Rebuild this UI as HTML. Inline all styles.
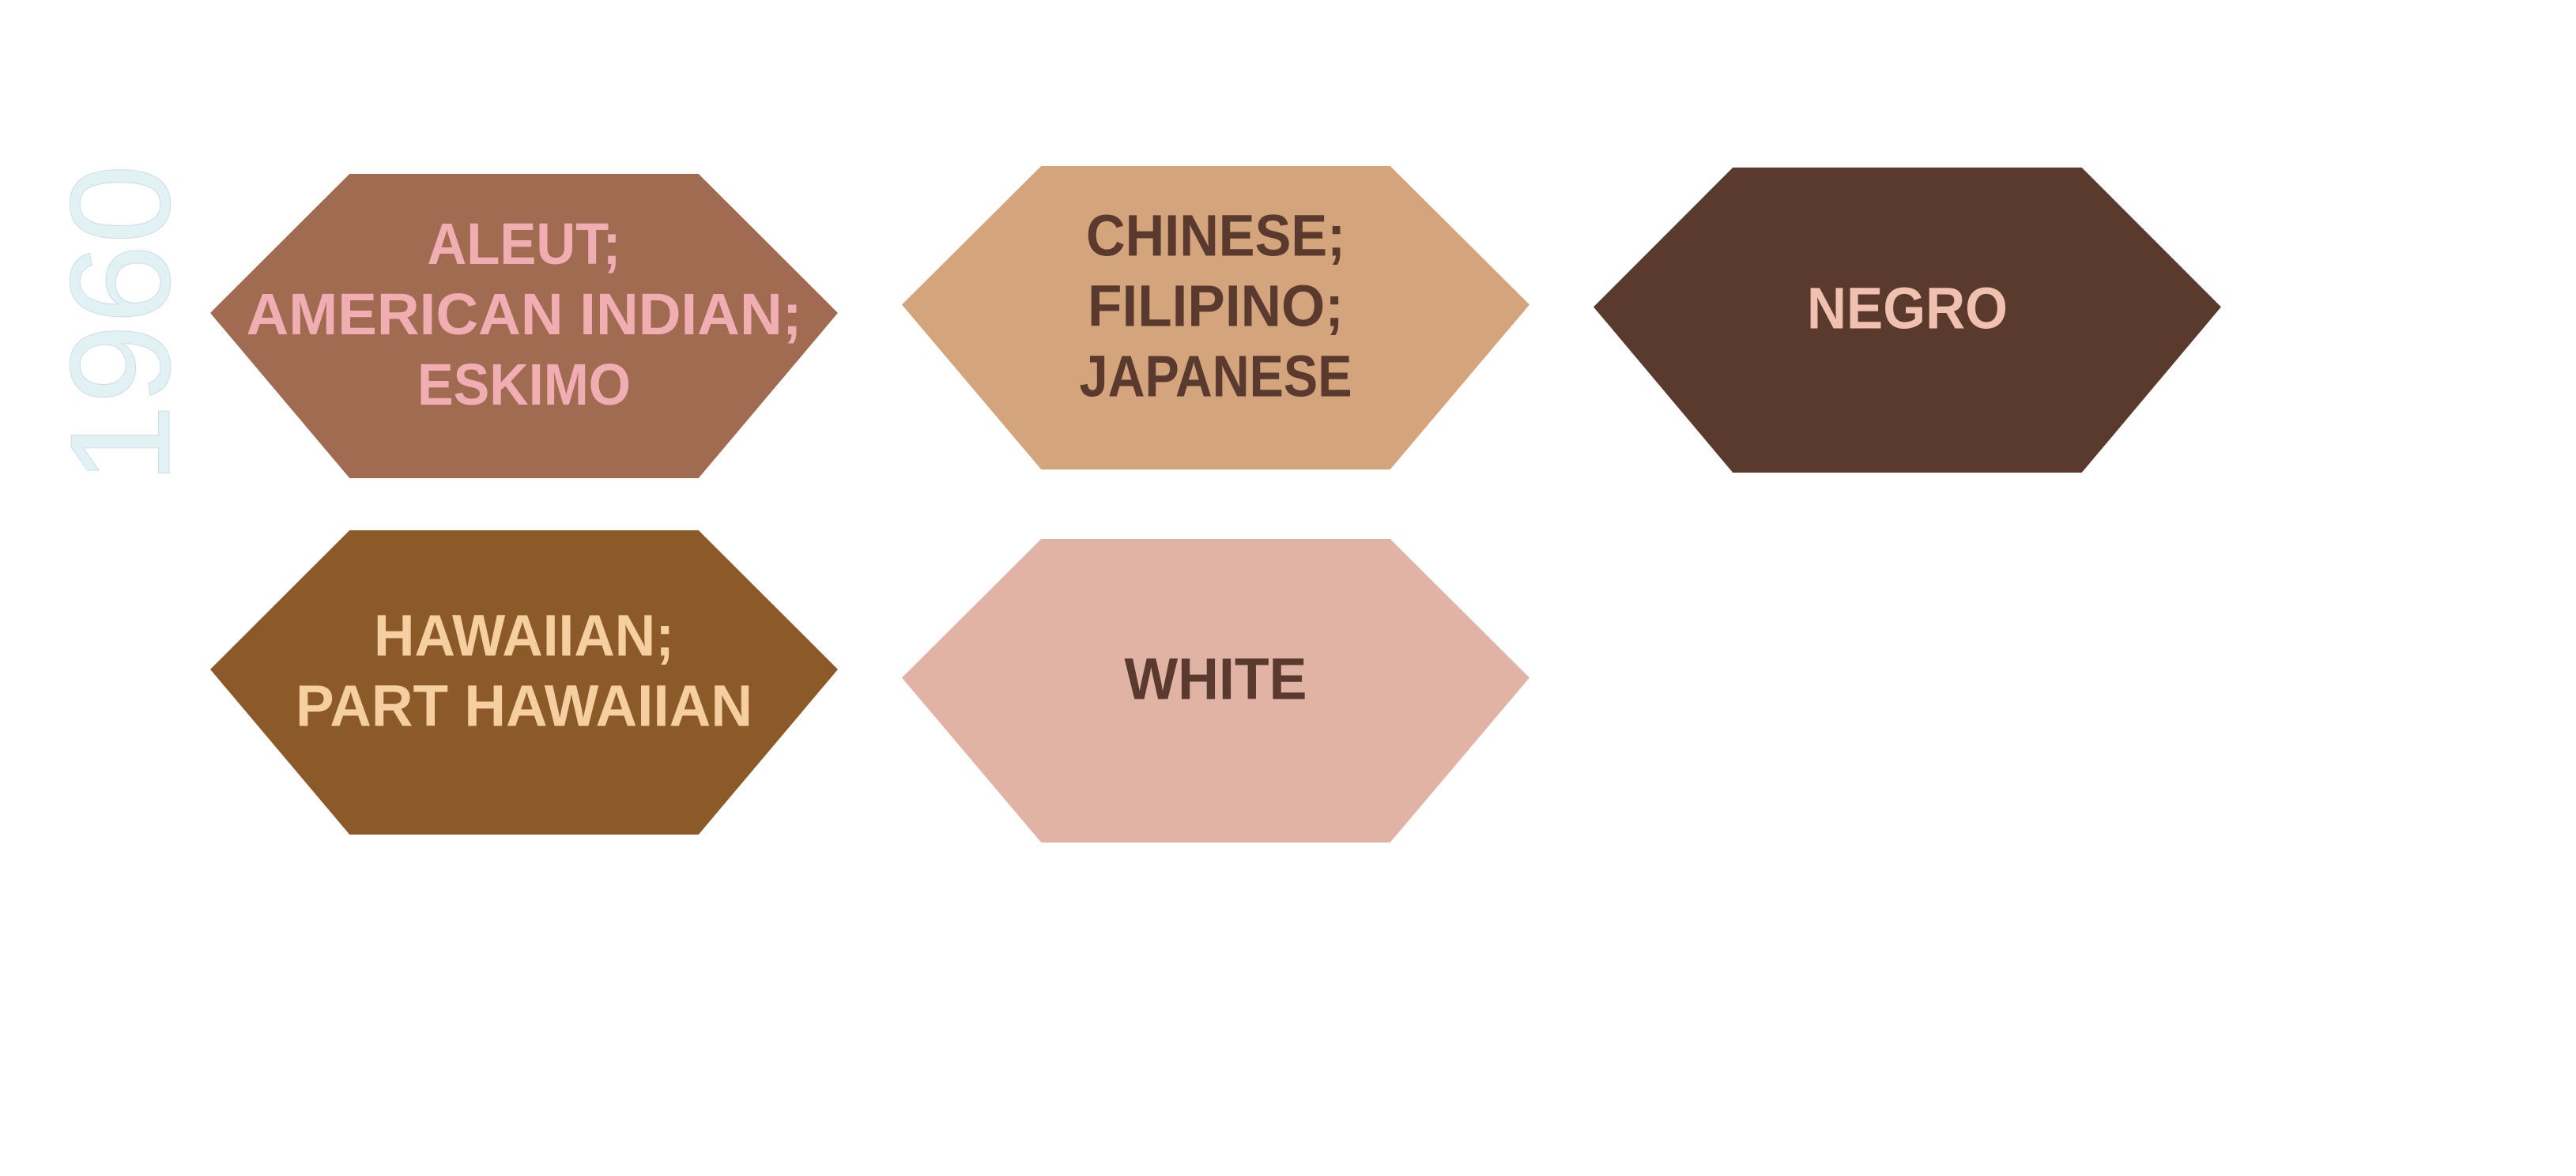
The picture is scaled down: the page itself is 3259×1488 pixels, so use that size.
<!DOCTYPE html>
<html><head><meta charset="utf-8"><style>
html,body{margin:0;padding:0;background:#fff;}
svg{display:block;}
text{font-family:"Liberation Sans Narrow","Liberation Sans",sans-serif;}
</style></head><body>
<svg width="3259" height="1488" viewBox="0 0 3259 1488">
<text transform="translate(214,410) rotate(-90)" text-anchor="middle" font-size="180" fill="#e2f2f4" stroke="#c9dde8" stroke-width="1" textLength="405" lengthAdjust="spacingAndGlyphs">1960</text>
<g id="hexes"></g>
</svg>
<script>
const labels=[["ALEUT;","AMERICAN INDIAN;","ESKIMO"],["CHINESE;","FILIPINO;","JAPANESE"],["NEGRO"],["HAWAIIAN;","PART HAWAIIAN"],["WHITE"]];
const names=["hex-aleut-american-indian-eskimo","hex-chinese-filipino-japanese","hex-negro","hex-hawaiian","hex-white"];
const fills=["#a06b50","#d4a57c","#5b3a2e","#8b5a28","#e0b3a4"];
const textColors=["#f0aeb2","#5a3a2e","#f0c0b0","#f5cf9f","#5a3a2e"];
const boxes=[[266,220,1060,605],[1141,210,1935,594],[2016,212,2810,598],[266,671,1060,1056],[1141,682,1935,1066]];
const widths=[[245,703,270],[328,324,345],[254],[380,578],[231]];
const g=document.getElementById('hexes');
const NS="http://www.w3.org/2000/svg";
boxes.forEach((b,i)=>{
 const [x0,y0,x1,y1]=b; const w=x1-x0, cy=y0+(y1-y0)*0.457, inset=w*0.222;
 const grp=document.createElementNS(NS,'g');
 
 
 const p=document.createElementNS(NS,'polygon');
 p.setAttribute('points',`${x0},${cy} ${x0+inset},${y0} ${x1-inset},${y0} ${x1},${cy} ${x1-inset},${y1} ${x0+inset},${y1}`);
 p.setAttribute('fill',fills[i]);
 
 
 grp.appendChild(p);
 const n=labels[i].length, lh=89, cx=(x0+x1)/2;
 labels[i].forEach((s,j)=>{
  const t=document.createElementNS(NS,'text');
  t.setAttribute('x',cx);
  t.setAttribute('y',cy+27+(j-(n-1)/2)*lh);
  t.setAttribute('text-anchor','middle');
  t.setAttribute('font-size','74');
  t.setAttribute('font-weight','bold');
  t.setAttribute('fill',textColors[i]);
  t.setAttribute('textLength',widths[i][j]);
  t.setAttribute('lengthAdjust','spacingAndGlyphs');
  
  
  t.textContent=s;
  grp.appendChild(t);
 });
 g.appendChild(grp);
});
</script>
</body></html>
